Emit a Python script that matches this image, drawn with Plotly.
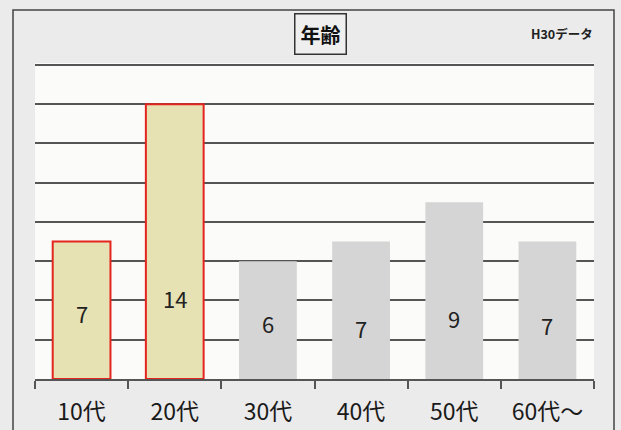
import plotly.graph_objects as go

categories = ["10代", "20代", "30代", "40代", "50代", "60代～"]
counts = [7, 14, 6, 7, 9, 7]
highlight = [True, True, False, False, False, False]

# label vertical offsets (pixels above the baseline), style only
label_shift_px = [66, 81, 56, 51, 61, 54]

FONT = "Noto Sans CJK JP"
fill_hi = "#e7e2b3"
fill_lo = "#d5d5d5"
edge_hi = "#e3241f"

colors = [fill_hi if h else fill_lo for h in highlight]
line_colors = [edge_hi if h else "rgba(0,0,0,0)" for h in highlight]
line_widths = [2 if h else 0 for h in highlight]

# plot area pixel geometry
PL, PR, PT, PB = 35, 594, 63, 379
PW, PH = PR - PL, PB - PT

def px(x):
    return (x - PL) / PW

def py(y):
    return (PB - y) / PH

fig = go.Figure()
fig.add_trace(go.Bar(
    x=categories, y=counts,
    width=0.62,
    marker=dict(color=colors, line=dict(color=line_colors, width=line_widths)),
    hoverinfo="skip",
))

annotations = []
for c, v, s in zip(categories, counts, label_shift_px):
    annotations.append(dict(
        x=c, y=0, xref="x", yref="y", text=str(v), showarrow=False,
        yshift=s, font=dict(family=FONT, size=22, color="#222222"),
    ))

annotations.append(dict(
    x=px(320), y=py(34), xref="paper", yref="paper",
    text="<b>年齢</b>", showarrow=False, xanchor="center", yanchor="middle",
    font=dict(family=FONT, size=20, color="#111111"),
    bordercolor="#333333", borderwidth=1.5, borderpad=5, bgcolor="#efefef",
))
annotations.append(dict(
    x=px(562), y=py(34), xref="paper", yref="paper",
    text="<b>H30データ</b>", showarrow=False, xanchor="center", yanchor="middle",
    font=dict(family=FONT, size=12.5, color="#222222"),
))

fig.update_layout(
    width=621, height=430,
    margin=dict(l=PL, r=621 - PR, t=PT, b=430 - PB, autoexpand=False),
    paper_bgcolor="#ebebeb",
    plot_bgcolor="#fbfbf9",
    showlegend=False,
    bargap=0.38,
    annotations=annotations,
    shapes=[dict(
        type="rect", xref="paper", yref="paper",
        x0=px(13), x1=px(614), y0=py(440), y1=py(10),
        line=dict(color="#444444", width=1.5), fillcolor="rgba(0,0,0,0)",
        layer="below",
    )],
)

fig.update_xaxes(
    type="category", range=[-0.5, 5.5], automargin=False,
    showline=True, linecolor="#555555", linewidth=1.5,
    ticks="outside", tickson="boundaries", ticklen=8, tickwidth=1.5, tickcolor="#555555",
    tickfont=dict(family=FONT, size=23, color="#1a1a1a"),
    ticklabelstandoff=12,
    showgrid=False, zeroline=False,
)
fig.update_yaxes(
    range=[0, 16.1], dtick=2, showticklabels=False, automargin=False,
    showgrid=True, gridcolor="#555555", gridwidth=1.5,
    zeroline=False, showline=False, ticks="",
)

fig.write_html(
    "out.html",
    config={"displayModeBar": False},
    post_script="document.body.style.margin='0';document.body.style.overflow='hidden';",
)
